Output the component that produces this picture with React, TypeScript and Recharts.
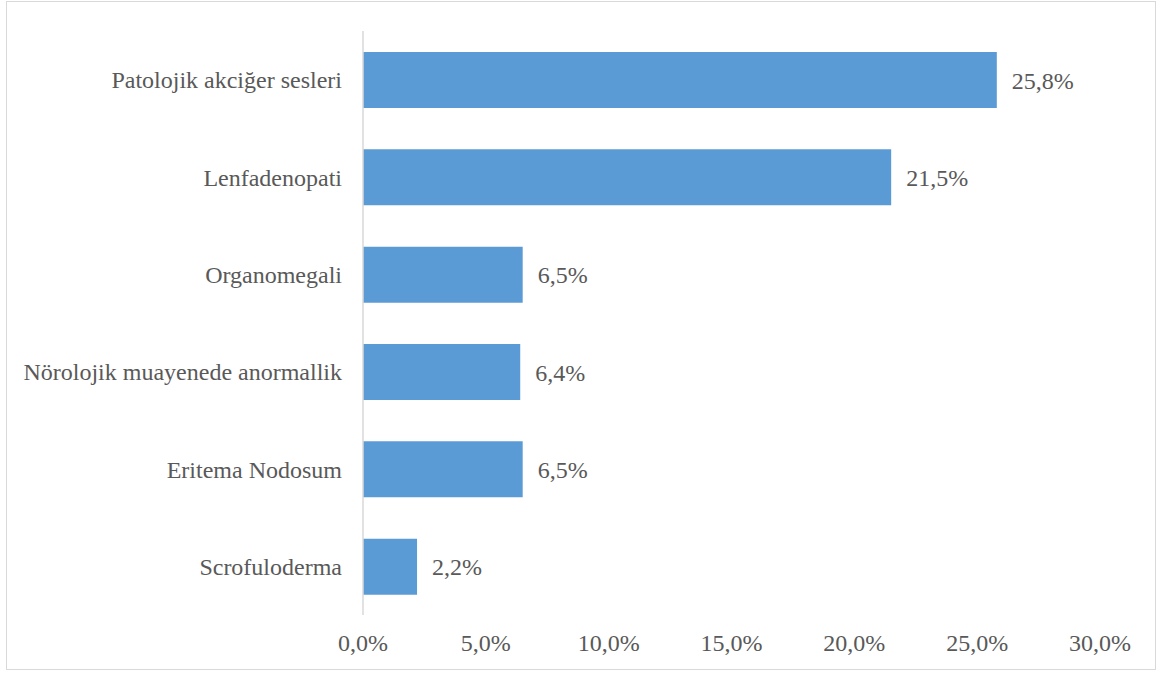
import React from "react";
import { BarChart, Bar, XAxis, YAxis, LabelList } from "recharts";

const categories = [
  "Patolojik akciğer sesleri",
  "Lenfadenopati",
  "Organomegali",
  "Nörolojik muayenede anormallik",
  "Eritema Nodosum",
  "Scrofuloderma",
];
const values = [25.8, 21.5, 6.5, 6.4, 6.5, 2.2];
const xTicks = [0, 5, 10, 15, 20, 25, 30];

const data = categories.map((name, i) => ({ name, value: values[i] }));

const fmt = (v: number) => v.toFixed(1).replace(".", ",") + "%";
const FONT = "'Liberation Serif', 'Times New Roman', serif";
const TEXT = "#595959";

export default function App() {
  return (
    <div style={{ position: "absolute", left: 0, top: 0, width: 1161, height: 673, background: "#fff" }}>
      <div
        style={{
          position: "absolute",
          left: 6,
          top: 1,
          width: 1150,
          height: 669,
          border: "1px solid #D9D9D9",
          boxSizing: "border-box",
        }}
      />
      <div style={{ position: "absolute", left: 0, top: 0 }}>
        <BarChart
          width={1161}
          height={673}
          data={data}
          layout="vertical"
          margin={{ top: 31, right: 61, bottom: 18, left: 0 }}
        >
          <XAxis
            type="number"
            domain={[0, 30]}
            ticks={xTicks}
            interval={0}
            tickFormatter={fmt}
            axisLine={false}
            tickLine={false}
            tickSize={0}
            tickMargin={19}
            height={40}
            tick={{ fill: TEXT, fontSize: 24, fontFamily: FONT }}
          />
          <YAxis
            type="category"
            dataKey="name"
            width={363}
            axisLine={{ stroke: "#D9D9D9", strokeWidth: 1.5 }}
            tickLine={false}
            tickSize={0}
            tickMargin={21}
            interval={0}
            tick={{ fill: TEXT, fontSize: 24, fontFamily: FONT }}
          />
          <Bar dataKey="value" fill="#5B9BD5" barSize={56} isAnimationActive={false}>
            <LabelList
              dataKey="value"
              position="right"
              offset={15}
              formatter={(v: any) => fmt(Number(v))}
              style={{ fill: TEXT, fontSize: 24, fontFamily: FONT }}
            />
          </Bar>
        </BarChart>
      </div>
    </div>
  );
}
